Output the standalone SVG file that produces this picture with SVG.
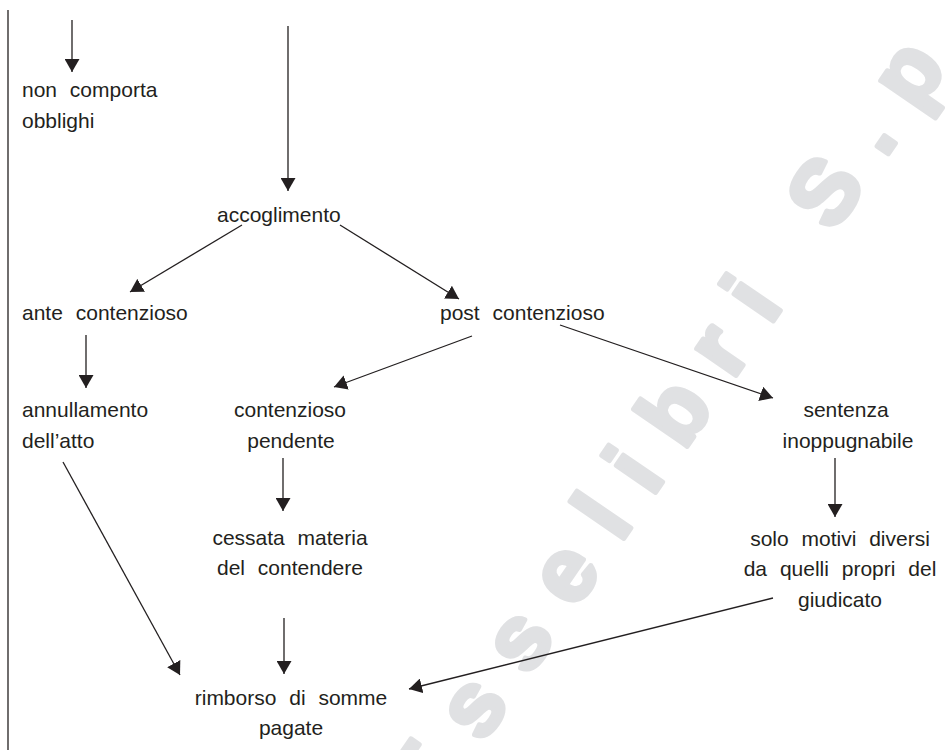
<svg xmlns="http://www.w3.org/2000/svg" width="947" height="750" viewBox="0 0 947 750">
<defs>
<marker id="ah" markerUnits="userSpaceOnUse" markerWidth="14" markerHeight="15" refX="13" refY="7.5" orient="auto">
<path d="M0,0 L13,7.5 L0,15 Z" fill="#231f20"/>
</marker>
<style>
.t{font-family:"Liberation Sans",Arial,sans-serif;font-size:21px;fill:#231f20;word-spacing:7px}
.m{text-anchor:middle}
.c line{stroke:#231f20;stroke-width:1.3;marker-end:url(#ah)}
.wm{font-family:"Liberation Sans",Arial,sans-serif;font-weight:bold;font-size:90px;fill:#e0e1e3;stroke:#e0e1e3;stroke-width:5;stroke-linejoin:round;letter-spacing:31px}
</style>
</defs>
<rect width="947" height="750" fill="#ffffff"/>
<text class="wm" transform="translate(431,819) rotate(-55.5)">Esselibri S.p.A.</text>
<line x1="8" y1="10" x2="8" y2="750" stroke="#231f20" stroke-width="1.3"/>
<g class="c" id="connectors">
<line x1="72" y1="20" x2="72" y2="72"/>
<line x1="288" y1="26" x2="288" y2="191"/>
<line x1="242" y1="225" x2="130" y2="292"/>
<line x1="340" y1="225" x2="459" y2="299"/>
<line x1="86" y1="335" x2="86" y2="388"/>
<line x1="472" y1="336" x2="334" y2="387"/>
<line x1="560" y1="325" x2="773" y2="398"/>
<line x1="283" y1="458" x2="283" y2="511"/>
<line x1="835" y1="458" x2="835" y2="517"/>
<line x1="284" y1="618" x2="284" y2="674"/>
<line x1="63" y1="462" x2="180" y2="675"/>
<line x1="773" y1="598" x2="409" y2="689"/>
</g>
<g id="n-non-comporta"><text class="t" x="22" y="97">non comporta</text><text class="t" x="22" y="128">obblighi</text></g>
<g id="n-accoglimento"><text class="t" x="217" y="222">accoglimento</text></g>
<g id="n-ante"><text class="t" x="22" y="320">ante contenzioso</text></g>
<g id="n-post"><text class="t" x="440" y="320">post contenzioso</text></g>
<g id="n-annullamento"><text class="t" x="22" y="417">annullamento</text><text class="t" x="22" y="448">dell’atto</text></g>
<g id="n-pendente"><text class="t m" x="290" y="417">contenzioso</text><text class="t m" x="291" y="448">pendente</text></g>
<g id="n-sentenza"><text class="t m" x="846" y="417">sentenza</text><text class="t m" x="848" y="448">inoppugnabile</text></g>
<g id="n-cessata"><text class="t m" x="290" y="545">cessata materia</text><text class="t m" x="290" y="575">del contendere</text></g>
<g id="n-motivi"><text class="t m" x="840" y="546">solo motivi diversi</text><text class="t m" x="840" y="576">da quelli propri del</text><text class="t m" x="840" y="607">giudicato</text></g>
<g id="n-rimborso"><text class="t m" x="291" y="705">rimborso di somme</text><text class="t m" x="291" y="735">pagate</text></g>
</svg>
